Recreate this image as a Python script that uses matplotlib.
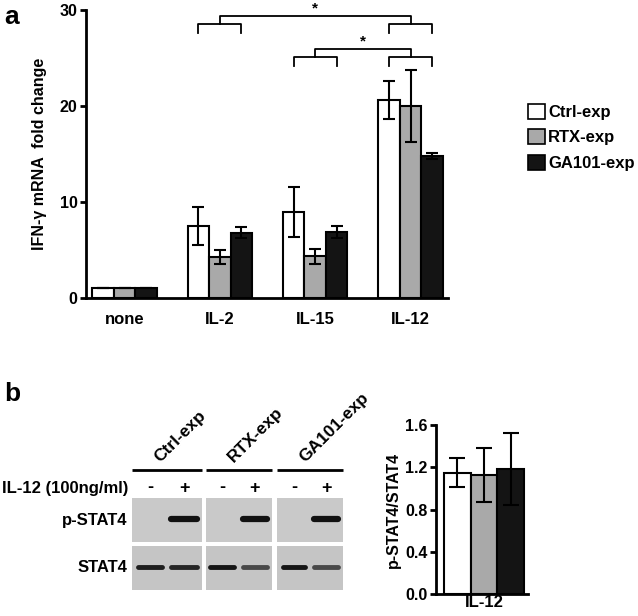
import numpy as np
import matplotlib.pyplot as plt
from matplotlib.patches import Rectangle, Patch

plt.rcParams['font.family'] = ['Liberation Sans', 'DejaVu Sans']
plt.rcParams['font.weight'] = 'bold'

# ---- data, panel a ----
groups = ['none', 'IL-2', 'IL-15', 'IL-12']
series = ['Ctrl-exp', 'RTX-exp', 'GA101-exp']
colors = ['white', '#a9a9a9', '#141414']
ctrl = [1.0, 7.5, 9.0, 20.6]
rtx = [1.0, 4.3, 4.35, 20.0]
ga101 = [1.0, 6.8, 6.9, 14.8]
ctrl_err = [0, 2.0, 2.6, 2.0]
rtx_err = [0, 0.75, 0.8, 3.8]
ga101_err = [0, 0.6, 0.6, 0.35]
# significance: (group A, group B, bracket level)
comparisons = [(1, 3, 28.5), (2, 3, 25.1)]

# ---- data, panel b ----
ratio = [1.15, 1.13, 1.18]
ratio_err = [0.14, 0.255, 0.34]
blot_groups = ['Ctrl-exp', 'RTX-exp', 'GA101-exp']
il12 = ['-', '+', '-', '+', '-', '+']
pstat4 = [0, 1, 0, 1, 0, 1]
stat4 = [0.95, 0.9, 1.0, 0.7, 1.0, 0.7]

fig = plt.figure(figsize=(6.38, 6.16), dpi=100)
W, H = 638, 616

def px(x0, y0, x1, y1):
    return [x0 / W, 1 - y1 / H, (x1 - x0) / W, (y1 - y0) / H]

# ---------------- panel a ----------------
ax = fig.add_axes(px(86, 10, 448, 298))
x = np.arange(len(groups))
w = 0.225
for i, (vals, errs) in enumerate([(ctrl, ctrl_err), (rtx, rtx_err), (ga101, ga101_err)]):
    ax.bar(x + (i - 1) * w, vals, w, color=colors[i], edgecolor='black', linewidth=1.5,
           label=series[i], zorder=2)
    ax.errorbar(x + (i - 1) * w, vals, yerr=errs, fmt='none', ecolor='black',
                elinewidth=1.5, capsize=4.5, capthick=1.5, zorder=3)

ax.set_xlim(-0.404, 3.393)
ax.set_ylim(0, 30)
ax.set_yticks([0, 10, 20, 30])
ax.set_xticks(x)
ax.set_xticklabels(groups, fontsize=12, fontweight='bold')
ax.tick_params(axis='x', length=0, pad=10)
ax.tick_params(axis='y', length=4, width=2, pad=2, labelsize=11.5)
for s in ['top', 'right']:
    ax.spines[s].set_visible(False)
for s in ['left', 'bottom']:
    ax.spines[s].set_linewidth(2)
ax.set_ylabel('IFN-\u03b3 mRNA  fold change', fontsize=11.5, fontweight='bold', labelpad=9)

for a, b, lev in comparisons:
    leg = 0.9
    up = 0.85
    for g in (a, b):
        ax.plot([g - w, g - w, g + w, g + w], [lev - leg, lev, lev, lev - leg],
                color='black', lw=1.3, clip_on=False)
    ax.plot([a, a, b, b], [lev, lev + up, lev + up, lev], color='black', lw=1.3, clip_on=False)
    ax.text((a + b) / 2, lev + up + 0.05, '*', ha='center', va='bottom', fontsize=11,
            fontweight='bold')

fig.legend(loc='upper left', bbox_to_anchor=(528 / W, 1 - 104 / H), frameon=False,
           fontsize=12, handlelength=1.0, handleheight=1.0, handletextpad=0.2,
           labelspacing=0.55, borderpad=0, borderaxespad=0,
           handles=[Patch(facecolor=c, edgecolor='black', linewidth=1.2, label=s)
                    for c, s in zip(colors, series)])

fig.text(4 / W, 1 - 17 / H, 'a', fontsize=19, fontweight='bold', va='center')
fig.text(4 / W, 1 - 394 / H, 'b', fontsize=19, fontweight='bold', va='center')

# ---------------- panel b, blot ----------------
bx = fig.add_axes([0, 0, 1, 1], zorder=-1)
bx.set_xlim(0, W)
bx.set_ylim(H, 0)
bx.axis('off')
boxes = [(132, 202), (206, 272), (277, 343)]
lanes = [(136, 164), (169, 199), (208, 236), (241, 269), (281, 307), (312, 340)]
for (x0, x1), name in zip(boxes, blot_groups):
    bx.plot([x0, x1], [470, 470], color='black', lw=2, solid_capstyle='butt')
    bx.text(x0 + 30, 465, name, rotation=45, rotation_mode='anchor', ha='left', va='bottom',
            fontsize=12.5, fontweight='bold')
    bx.add_patch(Rectangle((x0, 498), x1 - x0, 44, facecolor='#c9c9c9', edgecolor='none'))
    bx.add_patch(Rectangle((x0, 546), x1 - x0, 44, facecolor='#c5c5c5', edgecolor='none'))
for (l0, l1), sign, p, s in zip(lanes, il12, pstat4, stat4):
    bx.text((l0 + l1) / 2, 488, sign, ha='center', va='center', fontsize=13, fontweight='bold')
    if p > 0:
        bx.plot([l0 + 2, l1 - 2], [519, 519], color='#111111', lw=4.5, alpha=p,
                solid_capstyle='round')
    bx.plot([l0 + 2, l1 - 2], [567, 567], color='#151515', lw=3.5, alpha=s,
            solid_capstyle='round')
bx.text(128, 488, 'IL-12 (100ng/ml)', ha='right', va='center', fontsize=12, fontweight='bold')
bx.text(127, 520, 'p-STAT4', ha='right', va='center', fontsize=12, fontweight='bold')
bx.text(127, 568, 'STAT4', ha='right', va='center', fontsize=12, fontweight='bold')

# ---------------- panel b, bars ----------------
ax2 = fig.add_axes(px(436, 425, 528, 594))
xb = np.arange(3)
ax2.bar(xb, ratio, 1.0, color=colors, edgecolor='black', linewidth=1.5, zorder=2)
ax2.errorbar(xb, ratio, yerr=ratio_err, fmt='none', ecolor='black', elinewidth=1.5,
             capsize=6, capthick=1.5, zorder=3)
ax2.set_xlim(-0.81, 2.66)
ax2.set_ylim(0, 1.6)
ax2.set_yticks([0.0, 0.4, 0.8, 1.2, 1.6])
ax2.set_yticklabels(['0.0', '0.4', '0.8', '1.2', '1.6'])
ax2.set_xticks([1])
ax2.set_xticklabels(['IL-12'], fontsize=12, fontweight='bold')
ax2.tick_params(axis='x', length=0, pad=1)
ax2.tick_params(axis='y', length=4, width=2, pad=2, labelsize=11.5)
for s in ['top', 'right']:
    ax2.spines[s].set_visible(False)
for s in ['left', 'bottom']:
    ax2.spines[s].set_linewidth(2)
ax2.set_ylabel('p-STAT4/STAT4', fontsize=11.5, fontweight='bold', labelpad=3)

fig.savefig('out.png', dpi=100)
